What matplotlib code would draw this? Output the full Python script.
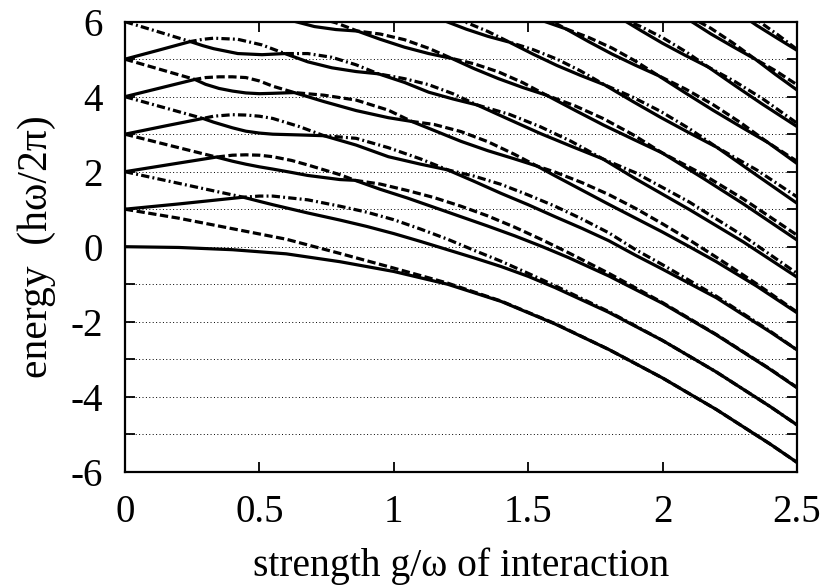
import numpy as np
import matplotlib.pyplot as plt

# energy levels, one pair per band n
# lower branch = solid line, upper branch = dashed (n even) / dash-dot (n odd)
g0 = [0, 0.2, 0.4, 0.6, 0.8, 1.0, 1.2, 1.4, 1.6, 1.8, 2.0, 2.2, 2.4, 2.5]
lo0 = [0, -0.02, -0.08, -0.19, -0.4, -0.66, -1.0, -1.46, -2.06, -2.74, -3.5, -4.34, -5.26, -5.75]
up0 = [1, 0.76, 0.48, 0.2, -0.18, -0.57, -0.97, -1.45, -2.05, -2.74, -3.5, -4.34, -5.26, -5.75]

g1 = [0, 0.2, 0.44, 0.5, 0.55, 0.68, 0.8, 0.9, 1.0, 1.1, 1.2, 1.3, 1.4, 1.5, 1.6, 1.8, 2.0, 2.2, 2.4, 2.5]
lo1 = [1, 1.14, 1.32, 1.21, 1.12, 0.9, 0.71, 0.54, 0.35, 0.14, -0.08, -0.3, -0.53, -0.79, -1.09, -1.75, -2.5, -3.34, -4.26, -4.75]
up1 = [2, 1.69, 1.32, 1.35, 1.35, 1.25, 1.08, 0.92, 0.72, 0.47, 0.2, -0.1, -0.39, -0.71, -1.04, -1.73, -2.5, -3.34, -4.26, -4.75]

g2 = [0, 0.2, 0.34, 0.4, 0.45, 0.5, 0.55, 0.62, 0.68, 0.8, 0.856, 0.95, 1.05, 1.15, 1.25, 1.35, 1.45, 1.55, 1.65, 1.8, 2.0, 2.2, 2.4, 2.5]
lo2 = [2, 2.23, 2.39, 2.28, 2.2, 2.13, 2.07, 1.98, 1.9, 1.79, 1.77, 1.53, 1.30, 1.05, 0.80, 0.55, 0.29, 0.01, -0.29, -0.78, -1.51, -2.35, -3.27, -3.76]
up2 = [3, 2.64, 2.39, 2.44, 2.45, 2.44, 2.4, 2.3, 2.18, 1.92, 1.77, 1.67, 1.50, 1.31, 1.08, 0.82, 0.52, 0.19, -0.16, -0.71, -1.49, -2.34, -3.26, -3.75]

g3 = [0, 0.15, 0.29, 0.33, 0.4, 0.45, 0.5, 0.55, 0.65, 0.74, 0.86, 0.98, 1.1, 1.2, 1.3, 1.4, 1.5, 1.6, 1.7, 1.8, 1.9, 2.0, 2.2, 2.4, 2.5]
lo3 = [3.0, 3.22, 3.42, 3.32, 3.17, 3.08, 3.03, 3.0, 2.98, 2.96, 2.71, 2.4, 2.2, 2.05, 1.74, 1.42, 1.12, 0.80, 0.49, 0.16, -0.23, -0.6, -1.36, -2.27, -2.75]
up3 = [4.0, 3.70, 3.42, 3.48, 3.52, 3.51, 3.48, 3.42, 3.2, 2.96, 2.89, 2.64, 2.34, 2.05, 1.88, 1.66, 1.38, 1.08, 0.74, 0.37, -0.08, -0.48, -1.32, -2.25, -2.75]

g4 = [0, 0.13, 0.26, 0.3, 0.35, 0.4, 0.45, 0.5, 0.55, 0.63, 0.74, 0.86, 0.98, 1.067, 1.15, 1.25, 1.35, 1.45, 1.533, 1.6, 1.7, 1.8, 1.9, 2.0, 2.1, 2.2, 2.35, 2.5]
lo4 = [4, 4.23, 4.46, 4.33, 4.22, 4.15, 4.10, 4.08, 4.09, 4.11, 3.87, 3.63, 3.44, 3.34, 3.10, 2.81, 2.56, 2.34, 2.15, 1.89, 1.51, 1.13, 0.76, 0.39, 0.0, -0.40, -1.05, -1.76]
up4 = [5, 4.73, 4.46, 4.51, 4.53, 4.53, 4.51, 4.42, 4.28, 4.11, 4.04, 3.91, 3.64, 3.34, 3.26, 3.07, 2.80, 2.46, 2.15, 1.99, 1.71, 1.39, 1.02, 0.61, 0.18, -0.28, -0.99, -1.74]

g5 = [0, 0.12, 0.243, 0.29, 0.33, 0.42, 0.51, 0.595, 0.68, 0.77, 0.86, 0.943, 1.04, 1.13, 1.22, 1.31, 1.43, 1.545, 1.66, 1.778, 1.9, 2.1, 2.3, 2.5]
lo5 = [5, 5.23, 5.47, 5.36, 5.28, 5.15, 5.12, 5.15, 4.93, 4.77, 4.67, 4.61, 4.38, 4.12, 3.94, 3.78, 3.39, 3.02, 2.68, 2.34, 1.81, 0.99, 0.13, -0.81]
up5 = [6, 5.74, 5.47, 5.53, 5.56, 5.53, 5.38, 5.15, 5.15, 5.05, 4.85, 4.61, 4.48, 4.32, 4.08, 3.78, 3.53, 3.20, 2.81, 2.34, 1.97, 1.19, 0.29, -0.71]

g6 = [0.545, 0.625, 0.705, 0.785, 0.865, 0.95, 1.04, 1.13, 1.216, 1.30, 1.39, 1.48, 1.568, 1.675, 1.78, 1.89, 1.999, 2.15, 2.3, 2.5]
lo6 = [6.2, 6.02, 5.87, 5.79, 5.75, 5.53, 5.32, 5.15, 5.02, 4.745, 4.48, 4.245, 4.04, 3.634, 3.245, 2.868, 2.5, 1.83, 1.145, 0.18]
up6 = [6.2, 6.2, 6.13, 5.97, 5.75, 5.67, 5.52, 5.29, 5.02, 4.875, 4.66, 4.375, 4.04, 3.754, 3.415, 2.988, 2.5, 1.93, 1.275, 0.31]

g7 = [1.107, 1.19, 1.27, 1.35, 1.43, 1.518, 1.607, 1.695, 1.784, 1.888, 1.993, 2.098, 2.202, 2.35, 2.5]
lo7 = [6.28, 6.02, 5.80, 5.61, 5.455, 5.136, 4.833, 4.567, 4.317, 3.878, 3.448, 3.041, 2.651, 1.908, 1.16]
up7 = [6.28, 6.15, 5.98, 5.74, 5.455, 5.256, 5.003, 4.687, 4.317, 3.992, 3.608, 3.155, 2.651, 2.048, 1.33]

g8 = [1.483, 1.56, 1.64, 1.726, 1.812, 1.898, 1.984, 2.086, 2.188, 2.29, 2.391, 2.5]
lo8 = [6.22, 6.01, 5.81, 5.465, 5.137, 4.842, 4.564, 4.096, 3.638, 3.203, 2.783, 2.22]
up8 = [6.38, 6.12, 5.81, 5.577, 5.297, 4.954, 4.564, 4.202, 3.788, 3.309, 2.783, 2.28]

g9 = [1.835, 1.92, 2.0, 2.085, 2.17, 2.27, 2.37, 2.5]
lo9 = [6.13, 5.761, 5.425, 5.1, 4.791, 4.294, 3.808, 3.205]
up9 = [6.13, 5.867, 5.575, 5.206, 4.791, 4.4, 3.958, 3.295]

g10 = [2.017, 2.1, 2.18, 2.26, 2.345, 2.42, 2.5]
lo10 = [6.43, 6.04, 5.673, 5.342, 5.0, 4.594, 4.18]
up10 = [6.43, 6.14, 5.823, 5.442, 5.0, 4.694, 4.32]

g11 = [2.19, 2.27, 2.35, 2.43, 2.5]
lo11 = [6.70, 6.297, 5.903, 5.545, 5.238]
up11 = [6.70, 6.397, 6.053, 5.645, 5.262]

xtick_labels = ['0', '0.5', '1', '1.5', '2', '2.5']
ytick_labels = ['-6', '-4', '-2', '0', '2', '4', '6']

pairs = [(g0, lo0, up0), (g1, lo1, up1), (g2, lo2, up2), (g3, lo3, up3),
         (g4, lo4, up4), (g5, lo5, up5), (g6, lo6, up6), (g7, lo7, up7),
         (g8, lo8, up8), (g9, lo9, up9), (g10, lo10, up10), (g11, lo11, up11)]

plt.rcParams['font.family'] = ['Liberation Serif', 'DejaVu Serif']

fig = plt.figure(figsize=(8.22, 5.86), dpi=100)
ax = fig.add_axes([0.152, 0.195, 0.8175, 0.768])

# dotted horizontal lines at every integer energy
for e in range(-5, 6):
    ax.axhline(e, color='black', lw=0.7, dashes=(1, 2.5), zorder=1)

for n, (g, lo, up) in enumerate(pairs):
    ax.plot(g, lo, color='black', lw=2.3, zorder=3)
    if n % 2 == 0:
        ax.plot(g, up, color='black', lw=2.3, dashes=(2.6, 1.1), zorder=3)
    else:
        ax.plot(g, up, color='black', lw=2.3, dashes=(2.6, 1.0, 0.6, 1.0), zorder=3)

ax.set_xlim(0, 2.5)
ax.set_ylim(-6, 6)
ax.set_xticks([0, 0.5, 1, 1.5, 2, 2.5])
ax.set_xticklabels(xtick_labels)
ax.set_yticks([-6, -4, -2, 0, 2, 4, 6])
ax.set_yticklabels(ytick_labels)
ax.set_yticks(np.arange(-5, 6, 2), minor=True)
ax.tick_params(which='both', direction='in', top=True, right=True, length=7, width=1.3,
               labelsize=28)
ax.tick_params(axis='x', pad=16)
ax.tick_params(axis='y', pad=16)
for s in ax.spines.values():
    s.set_linewidth(1.6)

ax.set_xlabel('strength g/\u03c9 of interaction', fontsize=28.5, labelpad=12)
ax.set_ylabel('energy  (h\u03c9/2\u03c0)', fontsize=30, labelpad=10)

plt.savefig('out.png', dpi=100)
